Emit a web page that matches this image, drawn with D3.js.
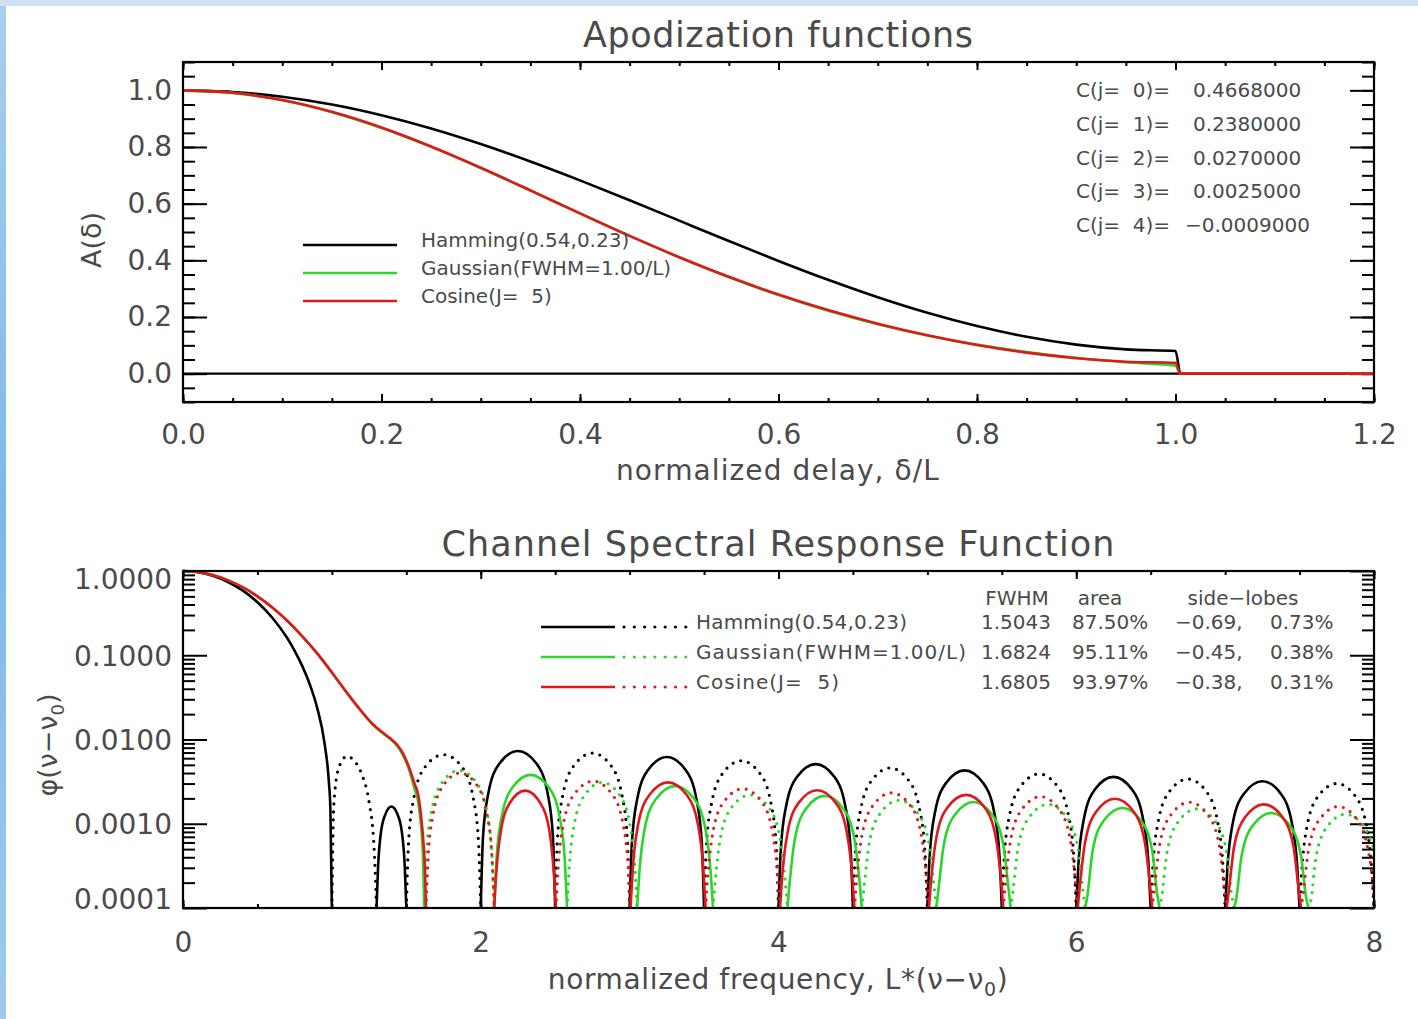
<!DOCTYPE html>
<html>
<head>
<meta charset="utf-8">
<script src="https://cdn.jsdelivr.net/npm/d3@7"></script>
<style>
  body { margin: 0; background: #fff; }
  svg text { font-family: "DejaVu Sans", sans-serif; fill: #4a4a4a; white-space: pre; }
</style>
</head>
<body>
<div id="chart"></div>
<script>
// ---------- data: apodization functions (top panel) ----------
const delay = [0, 0.05, 0.1, 0.15, 0.2, 0.25, 0.3, 0.35, 0.4, 0.45, 0.5, 0.55, 0.6, 0.65, 0.7, 0.75, 0.8, 0.85, 0.9, 0.95, 1.0, 1.005, 1.2];
const hammingApod = [1, 0.9943, 0.9775, 0.9499, 0.9121, 0.8653, 0.8104, 0.7488, 0.6821, 0.612, 0.54, 0.468, 0.3979, 0.3312, 0.2696, 0.2147, 0.1679, 0.1301, 0.1025, 0.0857, 0.08, 0, 0];
const gaussianApod = [1, 0.9911, 0.965, 0.923, 0.8673, 0.8005, 0.7259, 0.6465, 0.5657, 0.4863, 0.4107, 0.3406, 0.2776, 0.2222, 0.1747, 0.135, 0.1024, 0.0764, 0.0559, 0.0402, 0.0284, 0, 0];
const cosineApod = [1, 0.9913, 0.9657, 0.924, 0.8685, 0.8017, 0.7266, 0.6468, 0.5656, 0.4862, 0.411, 0.3418, 0.2795, 0.2245, 0.1765, 0.1356, 0.1014, 0.0742, 0.0543, 0.0422, 0.038, 0, 0];
const coeffs = [0.4668, 0.238, 0.027, 0.0025, -0.0009];

// ---------- data: channel spectral response (bottom panel), [nu, phi], phi<0 drawn dotted ----------
const hammingResp = [
  [0, 1], [0.1, 0.969], [0.2, 0.88], [0.3, 0.746], [0.4, 0.588], [0.5, 0.426], [0.6, 0.279], [0.7, 0.16], [0.75, 0.113], [0.8, 0.0753], [0.85, 0.0459], [0.9, 0.0242], [0.95, 0.0092], [0.98, 0.0031], [0.99, 0.0015], [1.0, 0],
  [1.01, -0.0012], [1.02, -0.0024], [1.05, -0.0048], [1.1, -0.0063], [1.15, -0.0056], [1.2, -0.0039], [1.25, -0.0018], [1.28, -0.00065], [1.29, -0.0003], [1.3, 0],
  [1.31, 0.0003], [1.33, 0.0008], [1.36, 0.0013], [1.4, 0.0016], [1.44, 0.0013], [1.47, 0.0008], [1.49, 0.0003], [1.5, 0],
  [1.515, -0.0006], [1.55, -0.002], [1.625, -0.0047], [1.75, -0.0066], [1.875, -0.0047], [1.95, -0.002], [1.985, -0.0006], [2.0, 0],
  [2.015, 0.00069], [2.05, 0.00226], [2.125, 0.00516], [2.25, 0.0073], [2.375, 0.00516], [2.45, 0.00226], [2.485, 0.00069], [2.5, 0],
  [2.515, -0.00065], [2.55, -0.00213], [2.625, -0.00488], [2.75, -0.0069], [2.875, -0.00488], [2.95, -0.00213], [2.985, -0.00065], [3.0, 0],
  [3.015, 0.00058], [3.05, 0.00192], [3.125, 0.00438], [3.25, 0.0062], [3.375, 0.00438], [3.45, 0.00192], [3.485, 0.00058], [3.5, 0],
  [3.515, -0.00053], [3.55, -0.00173], [3.625, -0.00396], [3.75, -0.0056], [3.875, -0.00396], [3.95, -0.00173], [3.985, -0.00053], [4.0, 0],
  [4.015, 0.00048], [4.05, 0.00158], [4.125, 0.00361], [4.25, 0.0051], [4.375, 0.00361], [4.45, 0.00158], [4.485, 0.00048], [4.5, 0],
  [4.515, -0.00043], [4.55, -0.00142], [4.625, -0.00325], [4.75, -0.0046], [4.875, -0.00325], [4.95, -0.00142], [4.985, -0.00043], [5.0, 0],
  [5.015, 0.0004], [5.05, 0.00133], [5.125, 0.00304], [5.25, 0.0043], [5.375, 0.00304], [5.45, 0.00133], [5.485, 0.0004], [5.5, 0],
  [5.515, -0.00037], [5.55, -0.00121], [5.625, -0.00276], [5.75, -0.0039], [5.875, -0.00276], [5.95, -0.00121], [5.985, -0.00037], [6.0, 0],
  [6.015, 0.00034], [6.05, 0.00111], [6.125, 0.00255], [6.25, 0.0036], [6.375, 0.00255], [6.45, 0.00111], [6.485, 0.00034], [6.5, 0],
  [6.515, -0.00032], [6.55, -0.00105], [6.625, -0.0024], [6.75, -0.0034], [6.875, -0.0024], [6.95, -0.00105], [6.985, -0.00032], [7.0, 0],
  [7.015, 0.0003], [7.05, 0.00099], [7.125, 0.00226], [7.25, 0.0032], [7.375, 0.00226], [7.45, 0.00099], [7.485, 0.0003], [7.5, 0],
  [7.515, -0.00028], [7.55, -0.00093], [7.625, -0.00212], [7.75, -0.003], [7.875, -0.00212], [7.95, -0.00093], [7.985, -0.00028], [8.0, 0]
];
const gaussianResp = [
  [0, 1], [0.1, 0.973], [0.2, 0.895], [0.3, 0.779], [0.4, 0.642], [0.5, 0.5], [0.6, 0.369], [0.7, 0.257], [0.8, 0.169], [0.9, 0.106], [1.0, 0.0625], [1.1, 0.036], [1.2, 0.0213], [1.27, 0.0153], [1.33, 0.0123], [1.39, 0.0102], [1.44, 0.0083], [1.48, 0.0064], [1.52, 0.0043], [1.555, 0.0026], [1.58, 0.0018], [1.6, 0.0009], [1.612, 0.0004], [1.62, 0],
  [1.634, -0.0004], [1.667, -0.00133], [1.738, -0.00304], [1.855, -0.0043], [1.973, -0.00304], [2.043, -0.00133], [2.076, -0.0004], [2.09, 0],
  [2.105, 0.00036], [2.139, 0.00117], [2.213, 0.00269], [2.335, 0.0038], [2.458, 0.00269], [2.531, 0.00117], [2.565, 0.00036], [2.58, 0],
  [2.594, -0.00029], [2.627, -0.00096], [2.698, -0.00219], [2.815, -0.0031], [2.933, -0.00219], [3.003, -0.00096], [3.036, -0.00029], [3.05, 0],
  [3.065, 0.00026], [3.101, 0.00087], [3.178, 0.00198], [3.305, 0.0028], [3.433, 0.00198], [3.509, 0.00087], [3.545, 0.00026], [3.56, 0],
  [3.575, -0.00021], [3.61, -0.00068], [3.685, -0.00156], [3.81, -0.0022], [3.935, -0.00156], [4.01, -0.00068], [4.045, -0.00021], [4.06, 0],
  [4.075, 0.0002], [4.11, 0.00066], [4.185, 0.00151], [4.31, 0.00214], [4.435, 0.00151], [4.51, 0.00066], [4.545, 0.0002], [4.56, 0],
  [4.575, -0.00018], [4.61, -0.00059], [4.685, -0.00134], [4.81, -0.0019], [4.935, -0.00134], [5.01, -0.00059], [5.045, -0.00018], [5.06, 0],
  [5.075, 0.00017], [5.11, 0.00056], [5.185, 0.00128], [5.31, 0.00181], [5.435, 0.00128], [5.51, 0.00056], [5.545, 0.00017], [5.56, 0],
  [5.575, -0.00016], [5.61, -0.00053], [5.685, -0.0012], [5.81, -0.0017], [5.935, -0.0012], [6.01, -0.00053], [6.045, -0.00016], [6.06, 0],
  [6.075, 0.00014], [6.11, 0.00048], [6.185, 0.00109], [6.31, 0.00154], [6.435, 0.00109], [6.51, 0.00048], [6.545, 0.00014], [6.56, 0],
  [6.575, -0.00014], [6.61, -0.00046], [6.685, -0.00106], [6.81, -0.0015], [6.935, -0.00106], [7.01, -0.00046], [7.045, -0.00014], [7.06, 0],
  [7.075, 0.00013], [7.11, 0.00041], [7.185, 0.00095], [7.31, 0.00134], [7.435, 0.00095], [7.51, 0.00041], [7.545, 0.00013], [7.56, 0],
  [7.575, -0.00012], [7.61, -0.0004], [7.685, -0.00092], [7.81, -0.0013], [7.935, -0.00092], [8.0, -0.0005]
];
const cosineResp = [
  [0, 1], [0.1, 0.973], [0.2, 0.895], [0.3, 0.779], [0.4, 0.642], [0.5, 0.5], [0.6, 0.369], [0.7, 0.257], [0.8, 0.169], [0.9, 0.106], [1.0, 0.0625], [1.1, 0.036], [1.2, 0.0215], [1.27, 0.0155], [1.33, 0.0125], [1.39, 0.0104], [1.44, 0.0086], [1.48, 0.0067], [1.52, 0.0046], [1.555, 0.003], [1.58, 0.0022], [1.6, 0.0012], [1.615, 0.0006], [1.625, 0.0003], [1.632, 0],
  [1.646, -0.00038], [1.678, -0.00124], [1.747, -0.00283], [1.861, -0.004], [1.976, -0.00283], [2.044, -0.00124], [2.076, -0.00038], [2.09, 0],
  [2.102, 0.00023], [2.132, 0.00076], [2.194, 0.00175], [2.298, 0.00247], [2.401, 0.00175], [2.464, 0.00076], [2.493, 0.00023], [2.505, 0],
  [2.52, -0.0003], [2.555, -0.00099], [2.63, -0.00226], [2.755, -0.0032], [2.881, -0.00226], [2.956, -0.00099], [2.991, -0.0003], [3.006, 0],
  [3.021, 0.00029], [3.056, 0.00096], [3.132, 0.00219], [3.258, 0.0031], [3.384, 0.00219], [3.46, 0.00096], [3.495, 0.00029], [3.51, 0],
  [3.525, -0.00024], [3.56, -0.0008], [3.635, -0.00184], [3.76, -0.0026], [3.885, -0.00184], [3.96, -0.0008], [3.995, -0.00024], [4.01, 0],
  [4.025, 0.00024], [4.06, 0.00077], [4.135, 0.00177], [4.26, 0.0025], [4.385, 0.00177], [4.46, 0.00077], [4.495, 0.00024], [4.51, 0],
  [4.525, -0.00022], [4.56, -0.00072], [4.635, -0.00165], [4.76, -0.00233], [4.885, -0.00165], [4.96, -0.00072], [4.995, -0.00022], [5.01, 0],
  [5.025, 0.00021], [5.06, 0.00068], [5.135, 0.00156], [5.26, 0.0022], [5.385, 0.00156], [5.46, 0.00068], [5.495, 0.00021], [5.51, 0],
  [5.525, -0.0002], [5.56, -0.00065], [5.635, -0.00148], [5.76, -0.0021], [5.885, -0.00148], [5.96, -0.00065], [5.995, -0.0002], [6.01, 0],
  [6.025, 0.00019], [6.06, 0.00061], [6.135, 0.0014], [6.26, 0.00198], [6.385, 0.0014], [6.46, 0.00061], [6.495, 0.00019], [6.51, 0],
  [6.525, -0.00017], [6.56, -0.00056], [6.635, -0.00127], [6.76, -0.0018], [6.885, -0.00127], [6.96, -0.00056], [6.995, -0.00017], [7.01, 0],
  [7.025, 0.00016], [7.06, 0.00053], [7.135, 0.0012], [7.26, 0.0017], [7.385, 0.0012], [7.46, 0.00053], [7.495, 0.00016], [7.51, 0],
  [7.525, -0.00015], [7.56, -0.00049], [7.635, -0.00113], [7.76, -0.0016], [7.885, -0.00113], [7.96, -0.00049], [7.995, -0.00015], [8.0, -0.0001]
];

const seriesNames = ["Hamming(0.54,0.23)", "Gaussian(FWHM=1.00/L)", "Cosine(J=  5)"];
const statFwhm = ["1.5043", "1.6824", "1.6805"];
const statArea = ["87.50%", "95.11%", "93.97%"];
const statLobeLo = ["−0.69,", "−0.45,", "−0.38,"];
const statLobeHi = ["0.73%", "0.38%", "0.31%"];

const delayTicks = [0, 0.2, 0.4, 0.6, 0.8, 1.0, 1.2];
const ampTicks = [0, 0.2, 0.4, 0.6, 0.8, 1.0];
const freqTicks = [0, 2, 4, 6, 8];
const respTicks = [1e-4, 1e-3, 1e-2, 1e-1, 1];

const colors = ["#000000", "#2ad62a", "#e0181c"];

(function () {
  const W = 1418, H = 1019;
  const svg = d3.select("#chart").append("svg")
    .attr("width", W).attr("height", H);

  // page background: blue frame, white sheet
  const grad = svg.append("defs").append("linearGradient").attr("id", "bg")
    .attr("x1", 0).attr("y1", 0).attr("x2", 0).attr("y2", 1);
  grad.append("stop").attr("offset", "0%").attr("stop-color", "#a8cff0");
  grad.append("stop").attr("offset", "50%").attr("stop-color", "#7db8ea");
  grad.append("stop").attr("offset", "100%").attr("stop-color", "#9fcaf0");
  svg.append("rect").attr("width", W).attr("height", H).attr("fill", "url(#bg)");
  svg.append("rect").attr("x", 0).attr("y", 0).attr("width", W).attr("height", 6).attr("fill", "#cfe3f4");
  svg.append("rect").attr("x", 6).attr("y", 6).attr("width", W - 6).attr("height", H - 6).attr("fill", "#ffffff");

  // helper to draw an axis and strip the domain line
  function drawAxis(axis, tx, ty, fontSize, sw) {
    const g = svg.append("g")
      .attr("transform", `translate(${tx},${ty})`)
      .call(axis);
    g.select(".domain").remove();
    g.attr("font-family", "DejaVu Sans").attr("font-size", fontSize);
    g.selectAll("line").attr("stroke", "#000").attr("stroke-width", sw);
    g.selectAll("text").attr("fill", "#4a4a4a");
    return g;
  }

  // =====================================================
  // Top panel: apodization functions
  // =====================================================
  const xA = d3.scaleLinear().domain([0, 1.2]).range([183, 1374]);
  const yA = d3.scaleLinear().domain([-0.1, 1.1]).range([402, 62]);
  const minorDelay = d3.range(0, 25).map(i => i * 0.05);
  const minorAmp = d3.range(-2, 23).map(i => i * 0.05);

  drawAxis(d3.axisBottom(xA).tickValues(delayTicks).tickSize(-8).tickPadding(22).tickFormat(d3.format(".1f")), 0, yA(-0.1), 28, 2);
  drawAxis(d3.axisBottom(xA).tickValues(minorDelay).tickSize(-4).tickFormat(""), 0, yA(-0.1), 28, 2);
  drawAxis(d3.axisTop(xA).tickValues(delayTicks).tickSize(-8).tickFormat(""), 0, yA(1.1), 28, 2);
  drawAxis(d3.axisTop(xA).tickValues(minorDelay).tickSize(-4).tickFormat(""), 0, yA(1.1), 28, 2);
  drawAxis(d3.axisLeft(yA).tickValues(ampTicks).tickSize(-24).tickPadding(11).tickFormat(d3.format(".1f")), xA(0), 0, 28, 2);
  drawAxis(d3.axisLeft(yA).tickValues(minorAmp).tickSize(-12).tickFormat(""), xA(0), 0, 28, 2);
  drawAxis(d3.axisRight(yA).tickValues(ampTicks).tickSize(-24).tickFormat(""), xA(1.2), 0, 28, 2);
  drawAxis(d3.axisRight(yA).tickValues(minorAmp).tickSize(-12).tickFormat(""), xA(1.2), 0, 28, 2);

  // zero line
  svg.append("line")
    .attr("x1", xA(0)).attr("x2", xA(1.2))
    .attr("y1", yA(0)).attr("y2", yA(0))
    .attr("stroke", "#000").attr("stroke-width", 2.2);

  svg.append("clipPath").attr("id", "clipA").append("rect")
    .attr("x", xA(0)).attr("y", yA(1.1)).attr("width", xA(1.2) - xA(0)).attr("height", yA(-0.1) - yA(1.1));

  const apodLine = d3.line()
    .x((d, i) => xA(delay[i]))
    .y(d => yA(d))
    .curve(d3.curveMonotoneX);

  [hammingApod, gaussianApod, cosineApod].forEach((vals, i) => {
    svg.append("path")
      .attr("clip-path", "url(#clipA)")
      .attr("d", apodLine(vals))
      .attr("fill", "none")
      .attr("stroke", colors[i])
      .attr("stroke-width", 2.6);
  });

  // frame
  svg.append("rect")
    .attr("x", xA(0)).attr("y", yA(1.1))
    .attr("width", xA(1.2) - xA(0)).attr("height", yA(-0.1) - yA(1.1))
    .attr("fill", "none").attr("stroke", "#000").attr("stroke-width", 2.2);

  // legend
  seriesNames.forEach((name, i) => {
    const ly = 245 + i * 28;
    svg.append("line")
      .attr("x1", 303).attr("x2", 397).attr("y1", ly).attr("y2", ly)
      .attr("stroke", colors[i]).attr("stroke-width", 2.6);
    svg.append("text")
      .attr("x", 421).attr("y", ly + 2)
      .attr("font-size", 20)
      .text(name);
  });

  // cosine coefficients
  coeffs.forEach((c, j) => {
    const ty = 97 + j * 33.8;
    svg.append("text").attr("x", 1076).attr("y", ty).attr("font-size", 20)
      .text(`C(j=  ${j})=`);
    svg.append("text").attr("x", c < 0 ? 1185 : 1193).attr("y", ty).attr("font-size", 20)
      .text(d3.format(".7f")(c));
  });

  svg.append("text")
    .attr("x", 778).attr("y", 47)
    .attr("text-anchor", "middle").attr("font-size", 35)
    .attr("textLength", 390).attr("lengthAdjust", "spacing")
    .text("Apodization functions");

  svg.append("text")
    .attr("x", 778).attr("y", 480)
    .attr("text-anchor", "middle").attr("font-size", 28)
    .attr("letter-spacing", 1.1)
    .text("normalized delay, δ/L");

  svg.append("text")
    .attr("transform", "translate(101,240) rotate(-90)")
    .attr("text-anchor", "middle").attr("font-size", 27)
    .text("A(δ)");

  // =====================================================
  // Bottom panel: channel spectral response function
  // =====================================================
  const xB = d3.scaleLinear().domain([0, 8]).range([183, 1374]);
  const yB = d3.scaleLog().domain([1e-4, 1]).range([908, 571]);
  const minorFreq = d3.range(0, 17).map(i => i * 0.5);
  const minorResp = [];
  [-4, -3, -2, -1].forEach(e => {
    for (let k = 2; k <= 9; k++) minorResp.push(k * Math.pow(10, e));
  });

  drawAxis(d3.axisBottom(xB).tickValues(freqTicks).tickSize(-8).tickPadding(24).tickFormat(d3.format("d")), 0, yB(1e-4), 28, 2);
  drawAxis(d3.axisBottom(xB).tickValues(minorFreq).tickSize(-4).tickFormat(""), 0, yB(1e-4), 28, 2);
  drawAxis(d3.axisTop(xB).tickValues(freqTicks).tickSize(-8).tickFormat(""), 0, yB(1), 28, 2);
  drawAxis(d3.axisTop(xB).tickValues(minorFreq).tickSize(-4).tickFormat(""), 0, yB(1), 28, 2);
  const leftB = drawAxis(d3.axisLeft(yB).tickValues(respTicks).tickSize(-24).tickPadding(11).tickFormat(d3.format(".4f")), xB(0), 0, 28, 2);
  leftB.selectAll("text").attr("y", d => d === 1 ? 9 : d === 1e-4 ? -8 : 1);
  drawAxis(d3.axisLeft(yB).tickValues(minorResp).tickSize(-12).tickFormat(""), xB(0), 0, 28, 2);
  drawAxis(d3.axisRight(yB).tickValues(respTicks).tickSize(-24).tickFormat(""), xB(8), 0, 28, 2);
  drawAxis(d3.axisRight(yB).tickValues(minorResp).tickSize(-12).tickFormat(""), xB(8), 0, 28, 2);

  svg.append("clipPath").attr("id", "clipB").append("rect")
    .attr("x", xB(0)).attr("y", yB(1) - 2).attr("width", xB(8) - xB(0)).attr("height", yB(1e-4) - yB(1) + 2);

  const solidLine = d3.line()
    .defined(d => d[1] >= 0)
    .x(d => xB(d[0]))
    .y(d => yB(Math.max(d[1], 1e-4)))
    .curve(d3.curveMonotoneX);
  const dottedLine = d3.line()
    .defined(d => d[1] <= 0)
    .x(d => xB(d[0]))
    .y(d => yB(Math.max(-d[1], 1e-4)))
    .curve(d3.curveMonotoneX);

  [hammingResp, gaussianResp, cosineResp].forEach((pts, i) => {
    svg.append("path")
      .attr("clip-path", "url(#clipB)")
      .attr("d", solidLine(pts))
      .attr("fill", "none")
      .attr("stroke", colors[i])
      .attr("stroke-width", 2.6);
    svg.append("path")
      .attr("clip-path", "url(#clipB)")
      .attr("d", dottedLine(pts))
      .attr("fill", "none")
      .attr("stroke", colors[i])
      .attr("stroke-width", 3.2)
      .attr("stroke-linecap", "round")
      .attr("stroke-dasharray", "0 8");
  });

  svg.append("rect")
    .attr("x", xB(0)).attr("y", yB(1))
    .attr("width", xB(8) - xB(0)).attr("height", yB(1e-4) - yB(1))
    .attr("fill", "none").attr("stroke", "#000").attr("stroke-width", 2.2);

  // legend with statistics
  const hdrY = 605;
  [["FWHM", 1017], ["area", 1100], ["side−lobes", 1243]].forEach(([t, cx]) => {
    svg.append("text").attr("x", cx).attr("y", hdrY)
      .attr("text-anchor", "middle").attr("font-size", 20).text(t);
  });
  const nameWidths = [211, 270, 143];
  seriesNames.forEach((name, i) => {
    const ly = 627 + i * 30;
    svg.append("line")
      .attr("x1", 541).attr("x2", 615).attr("y1", ly).attr("y2", ly)
      .attr("stroke", colors[i]).attr("stroke-width", 2.6);
    svg.append("line")
      .attr("x1", 624).attr("x2", 686).attr("y1", ly).attr("y2", ly)
      .attr("stroke", colors[i]).attr("stroke-width", 3.2)
      .attr("stroke-linecap", "round").attr("stroke-dasharray", "0 10.3");
    svg.append("text").attr("x", 696).attr("y", ly + 2).attr("font-size", 20)
      .attr("textLength", nameWidths[i]).attr("lengthAdjust", "spacing").text(name);
    svg.append("text").attr("x", 981).attr("y", ly + 2).attr("font-size", 20).text(statFwhm[i]);
    svg.append("text").attr("x", 1072).attr("y", ly + 2).attr("font-size", 20).text(statArea[i]);
    svg.append("text").attr("x", 1175).attr("y", ly + 2).attr("font-size", 20).text(statLobeLo[i]);
    svg.append("text").attr("x", 1270).attr("y", ly + 2).attr("font-size", 20).text(statLobeHi[i]);
  });

  svg.append("text")
    .attr("x", 778).attr("y", 556)
    .attr("text-anchor", "middle").attr("font-size", 35)
    .attr("textLength", 673).attr("lengthAdjust", "spacing")
    .text("Channel Spectral Response Function");

  const xt = svg.append("text")
    .attr("x", 778).attr("y", 989)
    .attr("text-anchor", "middle").attr("font-size", 28)
    .attr("letter-spacing", 0.65);
  xt.append("tspan").text("normalized frequency, L*(ν−ν");
  xt.append("tspan").attr("font-size", 19).attr("dy", 7).text("0");
  xt.append("tspan").attr("dy", -7).text(")");

  const yt = svg.append("text")
    .attr("transform", "translate(57,745) rotate(-90)")
    .attr("text-anchor", "middle").attr("font-size", 27);
  yt.append("tspan").text("φ(ν−ν");
  yt.append("tspan").attr("font-size", 18).attr("dy", 7).text("0");
  yt.append("tspan").attr("dy", -7).text(")");
}());
</script>
</body>
</html>
